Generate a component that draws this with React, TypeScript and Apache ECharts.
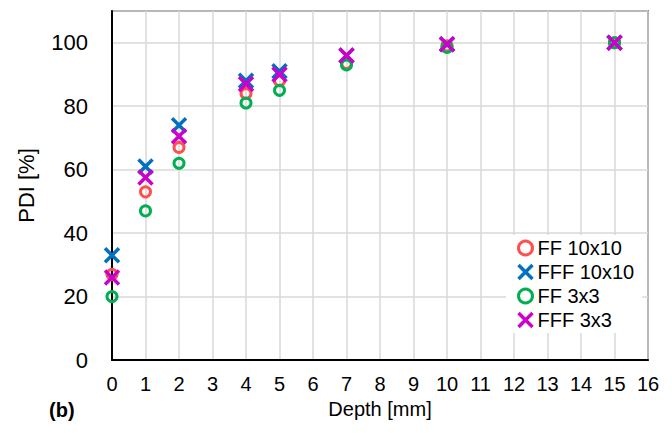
import React, { useEffect, useRef } from "react";
import * as echarts from "echarts";

const seriesNames = ["FF 10x10", "FFF 10x10", "FF 3x3", "FFF 3x3"];
const seriesColors = ["#FF5050", "#0070C0", "#00B050", "#CC00CC"];
const depths = [0, 1, 2, 4, 5, 7, 10, 15];
const ff10 = [27, 53, 67, 84, 88, 93.5, 99, 100];
const fff10 = [33, 61, 74, 88, 91, 96, 99.5, 100];
const ff3 = [20, 47, 62, 81, 85, 93, 98.5, 100];
const fff3 = [26, 57.5, 70.5, 87, 90, 96, 99.5, 100];
const seriesValues = [ff10, fff10, ff3, fff3];
const isCross = [false, true, false, true];

const CROSS = "path://M0,0L10,10M10,0L0,10";

export default function App() {
  const ref = useRef<HTMLDivElement>(null);
  useEffect(() => {
    if (!ref.current) return;
    const chart = echarts.init(ref.current, null, { renderer: "svg" });
    const font = "'Liberation Sans', Arial, sans-serif";
    const markStyle = (i: number) =>
      isCross[i]
        ? { color: "none", borderColor: seriesColors[i], borderWidth: 3.5, opacity: 1 }
        : { color: "none", borderColor: seriesColors[i], borderWidth: 3, opacity: 1 };
    chart.setOption({
      animation: false,
      backgroundColor: "#ffffff",
      textStyle: { fontFamily: font },
      grid: {
        left: 112,
        right: 24,
        top: 11,
        bottom: 73,
        show: true,
        borderColor: "#222",
        borderWidth: 1.5,
        containLabel: false,
      },
      legend: {
        orient: "vertical",
        left: 506,
        top: 235,
        backgroundColor: "#ffffff",
        padding: [3, 8, 3, 10],
        itemWidth: 14,
        itemHeight: 14,
        itemGap: 4,
        textStyle: { fontSize: 20, color: "#000", fontFamily: font, lineHeight: 20 },
        data: seriesNames.map((n, i) => ({ name: n, itemStyle: markStyle(i) })),
      },
      xAxis: {
        type: "value",
        min: 0,
        max: 16,
        interval: 1,
        name: "Depth [mm]",
        nameLocation: "middle",
        nameGap: 39,
        nameTextStyle: { fontSize: 20, color: "#000" },
        axisLine: { show: true, lineStyle: { color: "#000", width: 2 } },
        axisTick: { show: false },
        axisLabel: { fontSize: 20, color: "#000", margin: 14 },
        splitLine: { show: true, lineStyle: { color: "#d9d9d9", width: 1.5 } },
      },
      yAxis: {
        type: "value",
        min: 0,
        max: 110,
        interval: 20,
        name: "PDI [%]",
        nameLocation: "middle",
        nameGap: 75,
        nameTextStyle: { fontSize: 22, color: "#000" },
        axisLine: { show: true, lineStyle: { color: "#000", width: 2 } },
        axisTick: { show: false },
        axisLabel: { fontSize: 22, color: "#000", margin: 24, showMaxLabel: false },
        splitLine: { show: true, lineStyle: { color: "#d9d9d9", width: 1.5 } },
      },
      graphic: [
        {
          type: "text",
          left: 49,
          top: 400,
          style: { text: "(b)", font: "bold 20px 'Liberation Sans', Arial, sans-serif", fill: "#000" },
        },
      ],
      series: seriesNames.map((n, i) => ({
        name: n,
        type: "scatter",
        data: depths.map((d, j) => [d, seriesValues[i][j]]),
        symbol: isCross[i] ? CROSS : "circle",
        symbolSize: isCross[i] ? 14 : 10,
        itemStyle: markStyle(i),
        emphasis: { disabled: true },
      })),
    });
    return () => chart.dispose();
  }, []);
  return <div ref={ref} style={{ width: 672, height: 433, margin: -8 }} />;
}
